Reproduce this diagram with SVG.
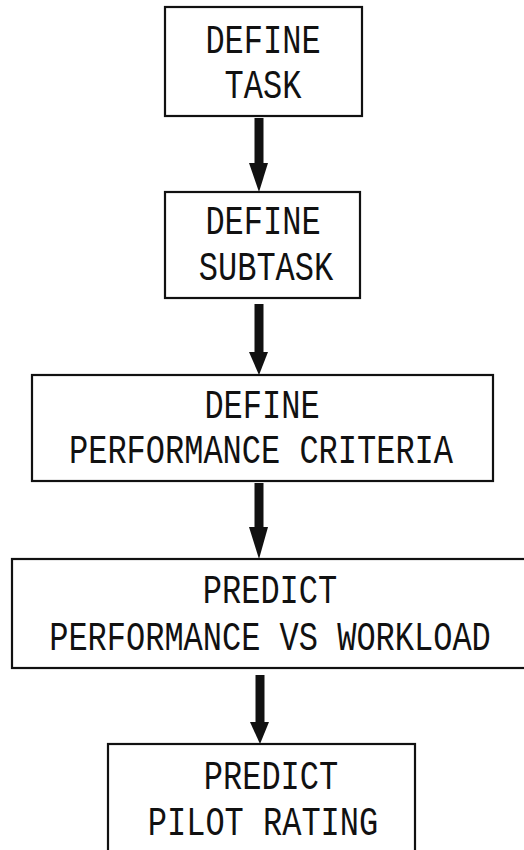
<svg xmlns="http://www.w3.org/2000/svg" width="524" height="850" viewBox="0 0 524 850">
<style>
.box{fill:none;stroke:#111;stroke-width:2.2}
.t{font-family:"Liberation Mono","DejaVu Sans Mono",monospace;font-size:32px;fill:#111;text-anchor:middle}
.shaft{stroke:#111;stroke-width:9}
.head{fill:#111}
</style>
<rect width="524" height="850" fill="#fff"/>
<g id="connectors">
<line class="shaft" x1="259" y1="118" x2="259" y2="166"/><polygon class="head" points="249,163 268,163 259,192"/>
<line class="shaft" x1="259" y1="304" x2="259" y2="355"/><polygon class="head" points="249,352 268,352 259,375"/>
<line class="shaft" x1="259" y1="483" x2="259" y2="530"/><polygon class="head" points="249,527 268,527 259,559"/>
<line class="shaft" x1="260" y1="675" x2="260" y2="725"/><polygon class="head" points="250,722 269,722 260,744"/>
</g>
<g id="n1"><rect class="box" x="165" y="7" width="197" height="109"/>
<text class="t" transform="translate(263,53) scale(1,1.25)">DEFINE</text>
<text class="t" transform="translate(263,98) scale(1,1.25)">TASK</text></g>
<g id="n2"><rect class="box" x="165" y="192" width="195" height="106"/>
<text class="t" transform="translate(263,234) scale(1,1.25)">DEFINE</text>
<text class="t" transform="translate(266,280) scale(1,1.25)">SUBTASK</text></g>
<g id="n3"><rect class="box" x="32" y="375" width="461" height="106"/>
<text class="t" transform="translate(262,418) scale(1,1.25)">DEFINE</text>
<text class="t" transform="translate(261,463) scale(1,1.25)">PERFORMANCE CRITERIA</text></g>
<g id="n4"><rect class="box" x="12" y="559" width="520" height="109"/>
<text class="t" transform="translate(270,603) scale(1,1.25)">PREDICT</text>
<text class="t" transform="translate(270,650) scale(1,1.25)">PERFORMANCE VS WORKLOAD</text></g>
<g id="n5"><rect class="box" x="108" y="744" width="307" height="120"/>
<text class="t" transform="translate(271,789) scale(1,1.25)">PREDICT</text>
<text class="t" transform="translate(263,835) scale(1,1.25)">PILOT RATING</text></g>
</svg>
